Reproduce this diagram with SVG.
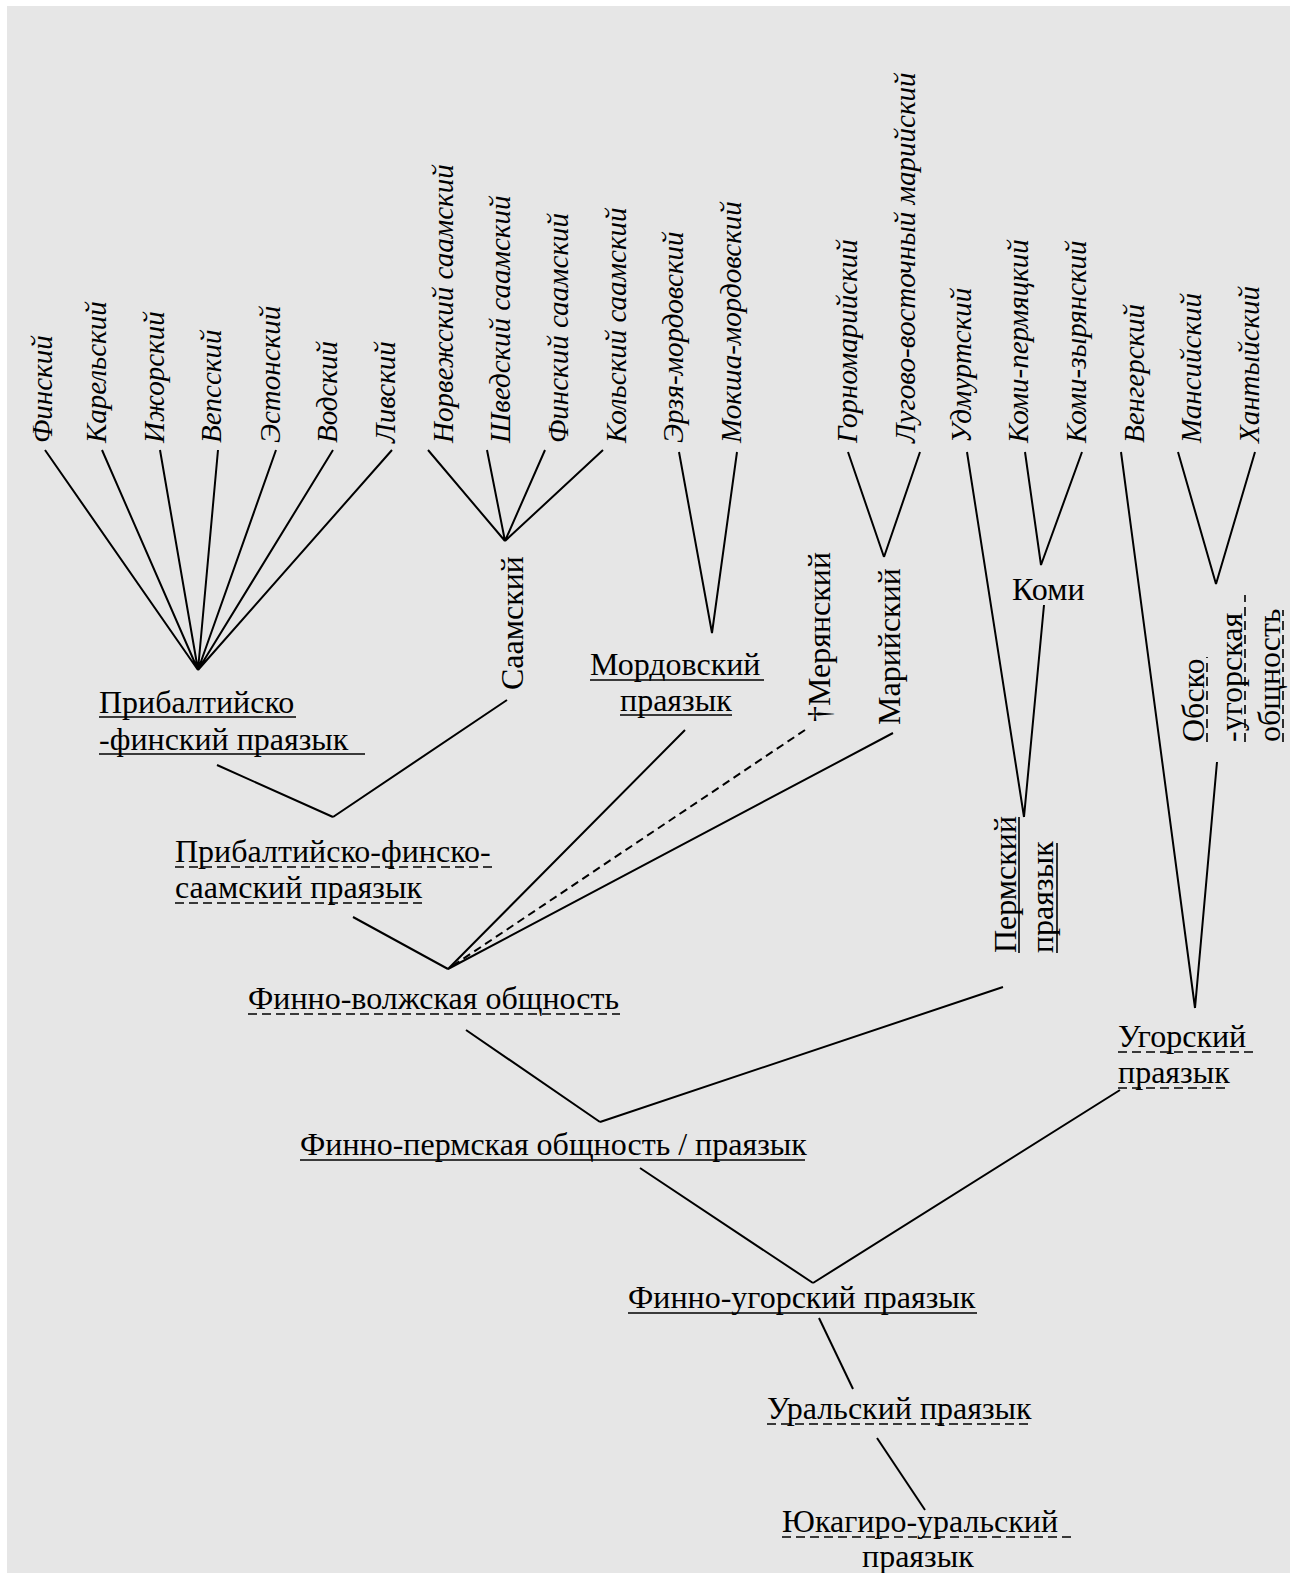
<svg xmlns="http://www.w3.org/2000/svg" width="1295" height="1573" viewBox="0 0 1295 1573">
<style>
.leaf{font-family:"Liberation Serif","Times New Roman",serif;font-style:italic;font-size:29px;fill:#000}
.lbl{font-family:"Liberation Serif","Times New Roman",serif;font-size:32px;fill:#000}
.ln{stroke:#000;stroke-width:2;fill:none}
.ul{stroke:#000;stroke-width:1.6;fill:none}
.dul{stroke:#000;stroke-width:1.6;stroke-dasharray:9 5;fill:none}
</style>
<rect x="0" y="0" width="1295" height="1573" fill="#ffffff"/>
<rect x="7" y="6" width="1283" height="1567" fill="#e6e6e6"/>

<g id="leaves">
<g id="n-finnish"><text class="leaf" transform="translate(52,443) rotate(-90)">Финский</text></g>
<g id="n-karelian"><text class="leaf" transform="translate(106,443) rotate(-90)">Карельский</text></g>
<g id="n-izhorian"><text class="leaf" transform="translate(164,443) rotate(-90)">Ижорский</text></g>
<g id="n-veps"><text class="leaf" transform="translate(221,443) rotate(-90)">Вепсский</text></g>
<g id="n-estonian"><text class="leaf" transform="translate(280,443) rotate(-90)">Эстонский</text></g>
<g id="n-votic"><text class="leaf" transform="translate(337,443) rotate(-90)">Водский</text></g>
<g id="n-livonian"><text class="leaf" transform="translate(395,443) rotate(-90)">Ливский</text></g>
<g id="n-nsaami"><text class="leaf" transform="translate(453,443) rotate(-90)">Норвежский саамский</text></g>
<g id="n-ssaami"><text class="leaf" transform="translate(510,443) rotate(-90)">Шведский саамский</text></g>
<g id="n-fsaami"><text class="leaf" transform="translate(568,443) rotate(-90)">Финский саамский</text></g>
<g id="n-ksaami"><text class="leaf" transform="translate(626,443) rotate(-90)">Кольский саамский</text></g>
<g id="n-erzya"><text class="leaf" transform="translate(683,443) rotate(-90)">Эрзя-мордовский</text></g>
<g id="n-moksha"><text class="leaf" transform="translate(741,443) rotate(-90)">Мокша-мордовский</text></g>
<g id="n-hillmari"><text class="leaf" transform="translate(857,443) rotate(-90)">Горномарийский</text></g>
<g id="n-meadowmari"><text class="leaf" transform="translate(915,443) rotate(-90)">Лугово-восточный марийский</text></g>
<g id="n-udmurt"><text class="leaf" transform="translate(971,443) rotate(-90)">Удмуртский</text></g>
<g id="n-komiperm"><text class="leaf" transform="translate(1028,443) rotate(-90)">Коми-пермяцкий</text></g>
<g id="n-komizyr"><text class="leaf" transform="translate(1086,443) rotate(-90)">Коми-зырянский</text></g>
<g id="n-hungarian"><text class="leaf" transform="translate(1144,443) rotate(-90)">Венгерский</text></g>
<g id="n-mansi"><text class="leaf" transform="translate(1201,443) rotate(-90)">Мансийский</text></g>
<g id="n-khanty"><text class="leaf" transform="translate(1259,443) rotate(-90)">Хантыйский</text></g>
</g>

<g id="n-balticfinnic">
<text class="lbl" x="99" y="713">Прибалтийско</text>
<text class="lbl" x="99" y="750">-финский праязык</text>
<line class="ul" x1="99" y1="717" x2="296" y2="717"/>
<line class="ul" x1="99" y1="754" x2="365" y2="754"/>
</g>
<g id="n-saami"><text class="lbl" transform="translate(523,690) rotate(-90)">Саамский</text></g>
<g id="n-mordvin">
<text class="lbl" x="590" y="675">Мордовский</text>
<text class="lbl" x="620" y="711">праязык</text>
<line class="ul" x1="590" y1="680" x2="764" y2="680"/>
<line class="ul" x1="620" y1="715" x2="732" y2="715"/>
</g>
<g id="n-merya"><text class="lbl" transform="translate(830,722) rotate(-90)">†Мерянский</text></g>
<g id="n-mari"><text class="lbl" transform="translate(900,725) rotate(-90)">Марийский</text></g>
<g id="n-komi"><text class="lbl" x="1012" y="600">Коми</text></g>
<g id="n-permic">
<text class="lbl" transform="translate(1016,953) rotate(-90)">Пермский</text>
<text class="lbl" transform="translate(1053,953) rotate(-90)">праязык</text>
<line class="ul" x1="1019" y1="817" x2="1019" y2="953"/>
<line class="ul" x1="1057" y1="843" x2="1057" y2="953"/>
</g>
<g id="n-obugric">
<text class="lbl" transform="translate(1204,742) rotate(-90)">Обско</text>
<text class="lbl" transform="translate(1242,742) rotate(-90)">-угорская</text>
<text class="lbl" transform="translate(1280,742) rotate(-90)">общность</text>
<line class="dul" x1="1207" y1="742" x2="1207" y2="657"/>
<line class="dul" x1="1245" y1="742" x2="1245" y2="595"/>
<line class="dul" x1="1283" y1="742" x2="1283" y2="610"/>
</g>
<g id="n-bfsaami">
<text class="lbl" x="175" y="862">Прибалтийско-финско-</text>
<text class="lbl" x="175" y="898">саамский праязык</text>
<line class="dul" x1="175" y1="867" x2="493" y2="867"/>
<line class="dul" x1="175" y1="903" x2="422" y2="903"/>
</g>
<g id="n-finnovolgaic">
<text class="lbl" x="248" y="1009">Финно-волжская общность</text>
<line class="dul" x1="248" y1="1014" x2="620" y2="1014"/>
</g>
<g id="n-ugric">
<text class="lbl" x="1118" y="1047">Угорский</text>
<text class="lbl" x="1118" y="1083">праязык</text>
<line class="dul" x1="1118" y1="1052" x2="1254" y2="1052"/>
<line class="dul" x1="1118" y1="1088" x2="1225" y2="1088"/>
</g>
<g id="n-finnopermic">
<text class="lbl" x="300" y="1155">Финно-пермская общность / праязык</text>
<line class="ul" x1="300" y1="1160" x2="805" y2="1160"/>
</g>
<g id="n-finnougric">
<text class="lbl" x="628" y="1308">Финно-угорский праязык</text>
<line class="ul" x1="628" y1="1313" x2="977" y2="1313"/>
</g>
<g id="n-uralic">
<text class="lbl" x="767" y="1419">Уральский праязык</text>
<line class="dul" x1="767" y1="1424" x2="1030" y2="1424"/>
</g>
<g id="n-yukaghiruralic">
<text class="lbl" x="782" y="1532">Юкагиро-уральский</text>
<text class="lbl" x="862" y="1567">праязык</text>
<line class="dul" x1="782" y1="1537" x2="1073" y2="1537"/>
</g>

<g id="connectors">
<path class="ln" d="M45,450L198,670M102,450L198,670M160,450L198,670M218,450L198,670M276,450L198,670M333,450L198,670M392,450L198,670"/>
<path class="ln" d="M428,450L505,541M487,450L505,541M545,450L505,541M603,450L505,541"/>
<path class="ln" d="M679,452L712,633M737,452L712,633"/>
<path class="ln" d="M848,452L884,557M920,452L884,557"/>
<path class="ln" d="M967,452L1024,817M1025,452L1041,565M1082,452L1041,565M1044,605L1024,817"/>
<path class="ln" d="M1121,452L1195,1008M1178,452L1216,584M1255,452L1216,584M1217,762L1195,1008"/>
<path class="ln" d="M507,700L333,817M217,765L333,817"/>
<path class="ln" d="M353,917L448,969M685,730L448,969M893,733L448,969"/>
<path class="ln" d="M805,730L448,969" stroke-dasharray="8 5"/>
<path class="ln" d="M466,1030L600,1122M1003,987L600,1122"/>
<path class="ln" d="M640,1168L813,1283M1120,1090L813,1283"/>
<path class="ln" d="M819,1318L853,1389"/>
<path class="ln" d="M877,1438L925,1510"/>
</g>
</svg>
